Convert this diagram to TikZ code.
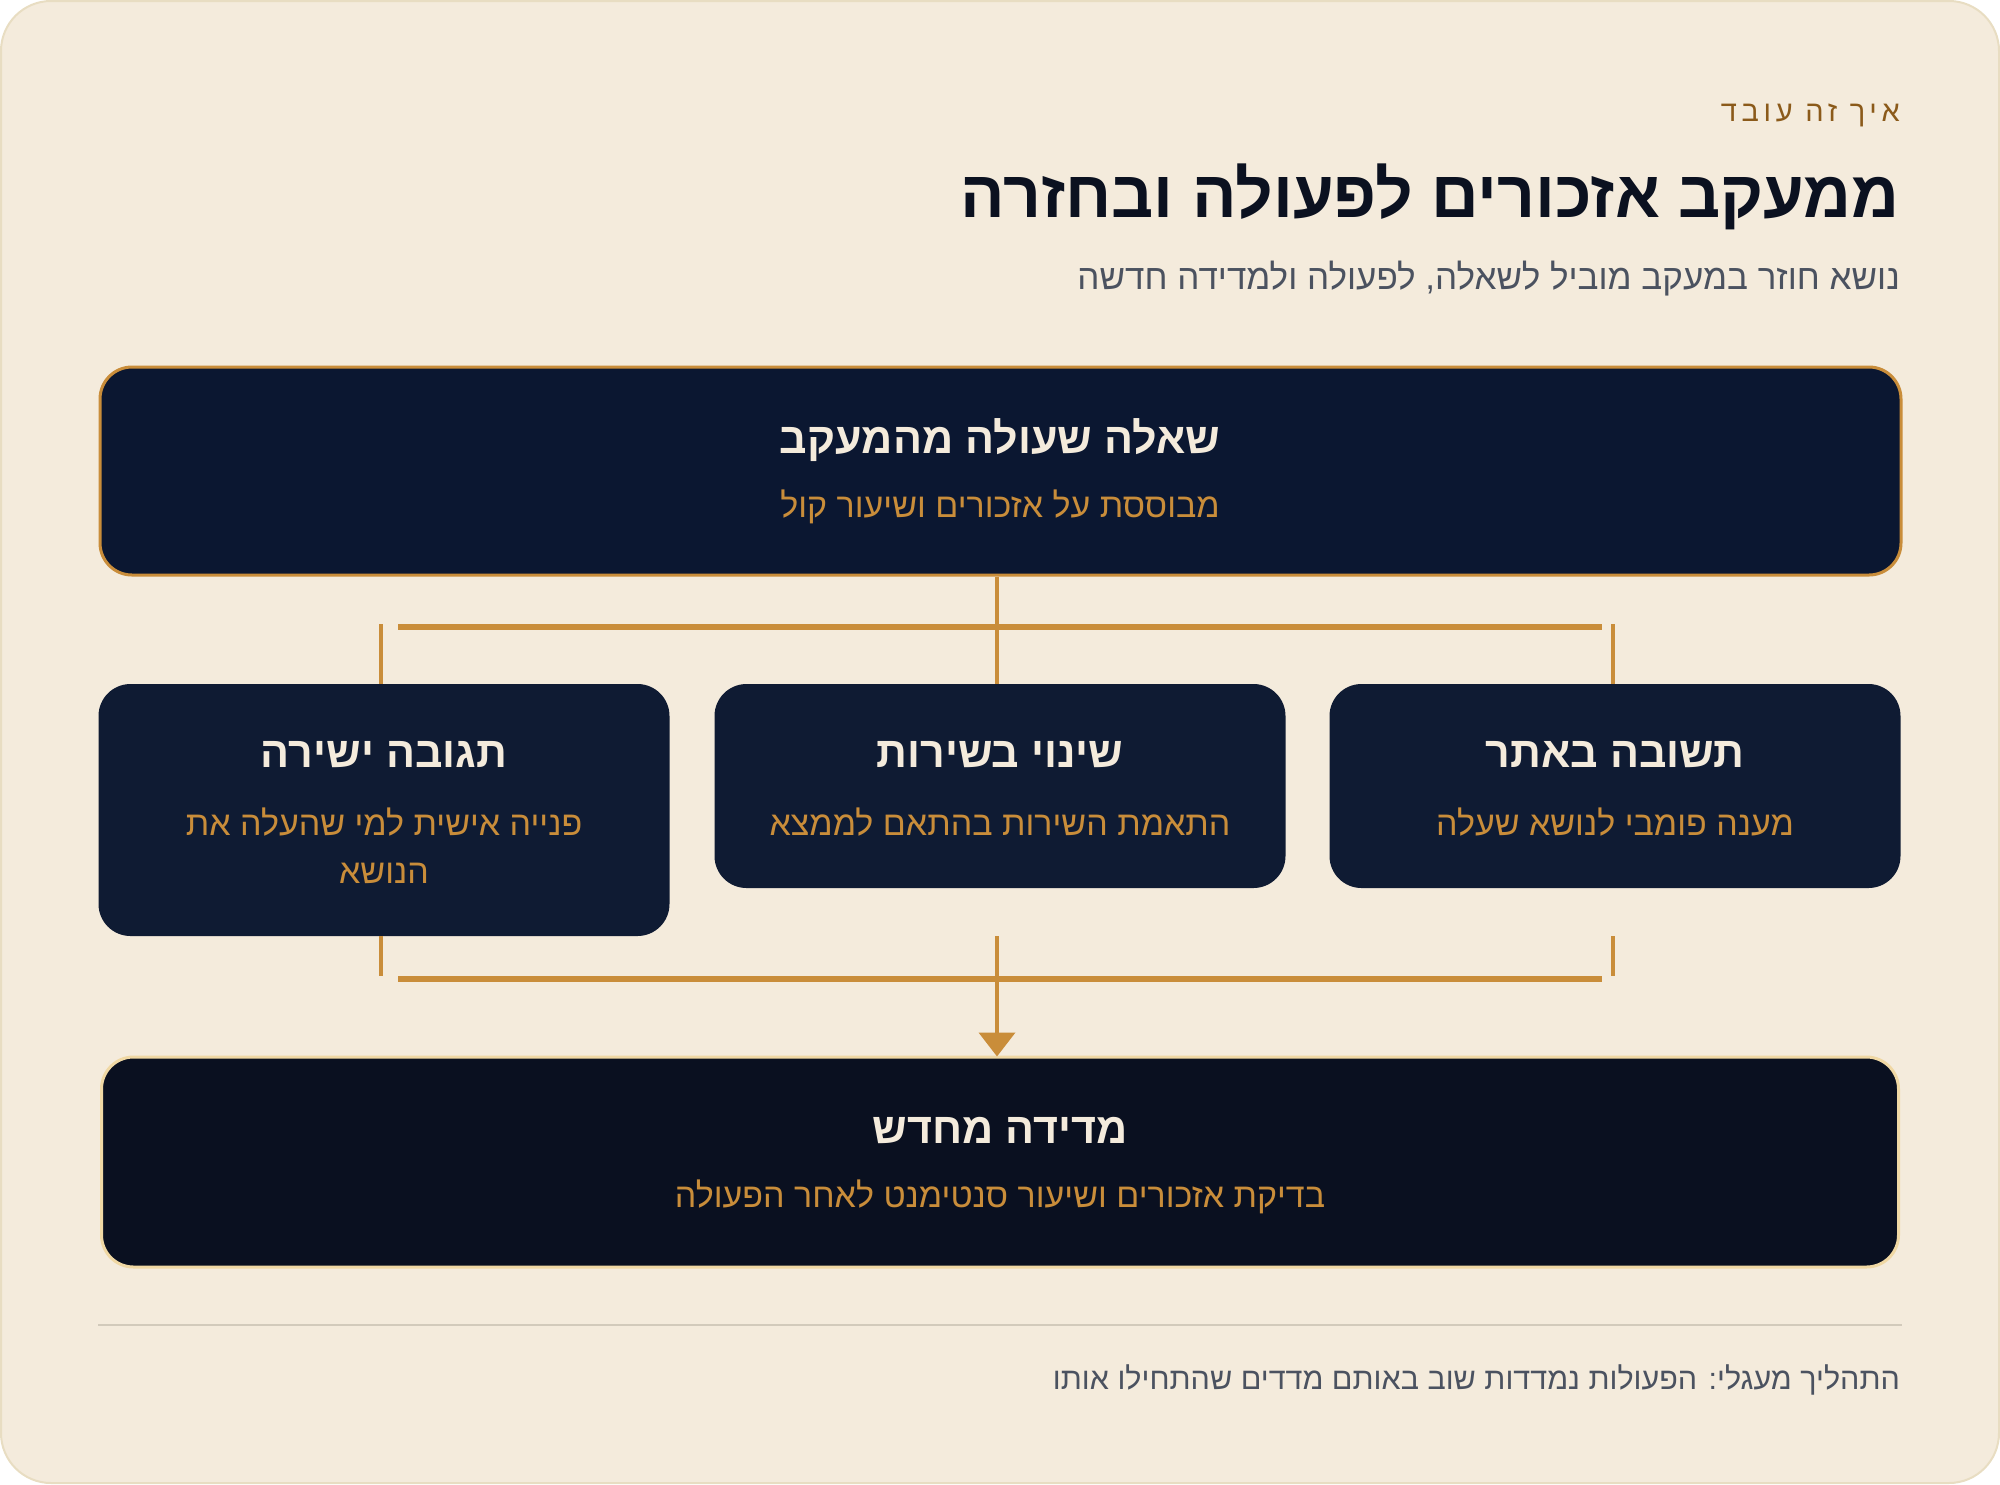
\documentclass[tikz,border=0pt]{standalone}
\usepackage{fontspec}
\setmainfont{Liberation Sans}
\newfontfamily\heb[Script=Hebrew]{Liberation Sans}
\newfontfamily\hebsp[Script=Hebrew,LetterSpace=16]{Liberation Sans}
\TeXXeTstate=1
\usetikzlibrary{arrows.meta}
\definecolor{bg}{HTML}{F4EBDC}
\definecolor{bgline}{HTML}{E8DDC2}
\definecolor{gold}{HTML}{C98D3A}
\definecolor{goldlight}{HTML}{F0D8A4}
\definecolor{cream}{HTML}{F4EBDC}
\definecolor{navyA}{HTML}{0B1731}
\definecolor{navyB}{HTML}{0F1B33}
\definecolor{navyC}{HTML}{0A1020}
\definecolor{ink}{HTML}{0B1120}
\definecolor{grayt}{HTML}{4B5260}
\definecolor{kicker}{HTML}{8B5A1A}
\definecolor{sep}{HTML}{D2CABB}
\tikzset{
  topbox/.style={draw=gold, line width=3pt, fill=navyA, rounded corners=32pt, minimum width=1801pt, minimum height=208pt, inner sep=0pt},
  midbox/.style={fill=navyB, rounded corners=32pt, minimum width=571pt, inner sep=0pt},
  endbox/.style={draw=goldlight, line width=3pt, fill=navyC, rounded corners=32pt, minimum width=1797pt, minimum height=210pt, inner sep=0pt},
  ttl/.style={text=cream, font=\heb\bfseries\fontsize{43}{50}\selectfont, inner sep=0pt},
  subt/.style={text=gold, font=\heb\fontsize{34}{48}\selectfont, inner sep=0pt, align=center},
  conn/.style={draw=gold, line width=4pt},
  bar/.style={draw=gold, line width=6pt},
}
\begin{document}
\begin{tikzpicture}[x=1pt,y=-1pt]
\useasboundingbox (0,0) rectangle (2000,1484);
\path[fill=bg, draw=bgline, line width=2pt, rounded corners=50pt] (1,1) rectangle (1999,1483);

% header
\node[anchor=east, inner sep=0pt, text=kicker, font=\hebsp\fontsize{29}{34}\selectfont] (kick) at (1900,115) {\beginR איך זה עובד\endR};
\node[anchor=east, inner sep=0pt, text=ink, font=\heb\bfseries\fontsize{66}{76}\selectfont] (title) at (1900,197) {\beginR ממעקב אזכורים לפעולה ובחזרה\endR};
\node[anchor=east, inner sep=0pt, text=grayt, font=\heb\fontsize{35}{40}\selectfont] (subtitle) at (1900,279) {\beginR נושא חוזר במעקב מוביל לשאלה, לפעולה ולמדידה חדשה\endR};

% top box
\node[topbox] (q) at (1000.5,471) {};
\node[ttl] (qt) at (1000,440) {\beginR שאלה שעולה מהמעקב\endR};
\node[subt] (qs) at (1000,507) {\beginR מבוססת על אזכורים ושיעור קול\endR};

% middle boxes
\node[midbox, minimum height=252pt] (a) at (384,810) {};
\node[ttl] (at) at (384,755) {\beginR תגובה ישירה\endR};
\node[subt] (as) at (384,846) {\beginR פנייה אישית למי שהעלה את\endR\\\beginR הנושא\endR};

\node[midbox, minimum height=204pt] (b) at (1000,786) {};
\node[ttl] (bt) at (1000,755) {\beginR שינוי בשירות\endR};
\node[subt] (bs) at (1000,822) {\beginR התאמת השירות בהתאם לממצא\endR};

\node[midbox, minimum height=204pt] (c) at (1615,786) {};
\node[ttl] (ct) at (1615,755) {\beginR תשובה באתר\endR};
\node[subt] (cs) at (1615,822) {\beginR מענה פומבי לנושא שעלה\endR};

% bottom box
\node[endbox] (m) at (1000,1162) {};
\node[ttl] (mt) at (1000,1130) {\beginR מדידה מחדש\endR};
\node[subt] (ms) at (1000,1197) {\beginR בדיקת אזכורים ושיעור סנטימנט לאחר הפעולה\endR};

% upper connectors
\coordinate (ua) at (381,624);
\coordinate (ub) at (997,624);
\coordinate (uc) at (1613,624);
\coordinate (ubl) at (398,627);
\coordinate (ubr) at (1602,627);
\draw[conn] (ub |- q.south) -- (ub |- b.north);
\draw[bar] (ubl) -- (ubr);
\draw[conn] (ua) -- (ua |- a.north);
\draw[conn] (uc) -- (uc |- c.north);

% lower connectors
\coordinate (la) at (381,976);
\coordinate (lc) at (1613,976);
\coordinate (lb) at (997,936);
\coordinate (lbl) at (398,979);
\coordinate (lbr) at (1602,979);
\draw[conn] (la |- a.south) -- (la);
\draw[conn] (lc |- lb) -- (lc);
\draw[bar] (lbl) -- (lbr);
\draw[conn, -{Triangle[length=24pt,width=36pt]}, shorten >=-1pt] (lb) -- (lb |- m.north);

% footer
\coordinate (sl) at (98,1325);
\coordinate (sr) at (1902,1325);
\draw[draw=sep, line width=2pt] (sl) -- (sr);
\node[anchor=east, inner sep=0pt, text=grayt, font=\heb\fontsize{30.5}{36}\selectfont] (foot) at (1900,1380) {\beginR התהליך מעגלי: הפעולות נמדדות שוב באותם מדדים שהתחילו אותו\endR};
\end{tikzpicture}
\end{document}
